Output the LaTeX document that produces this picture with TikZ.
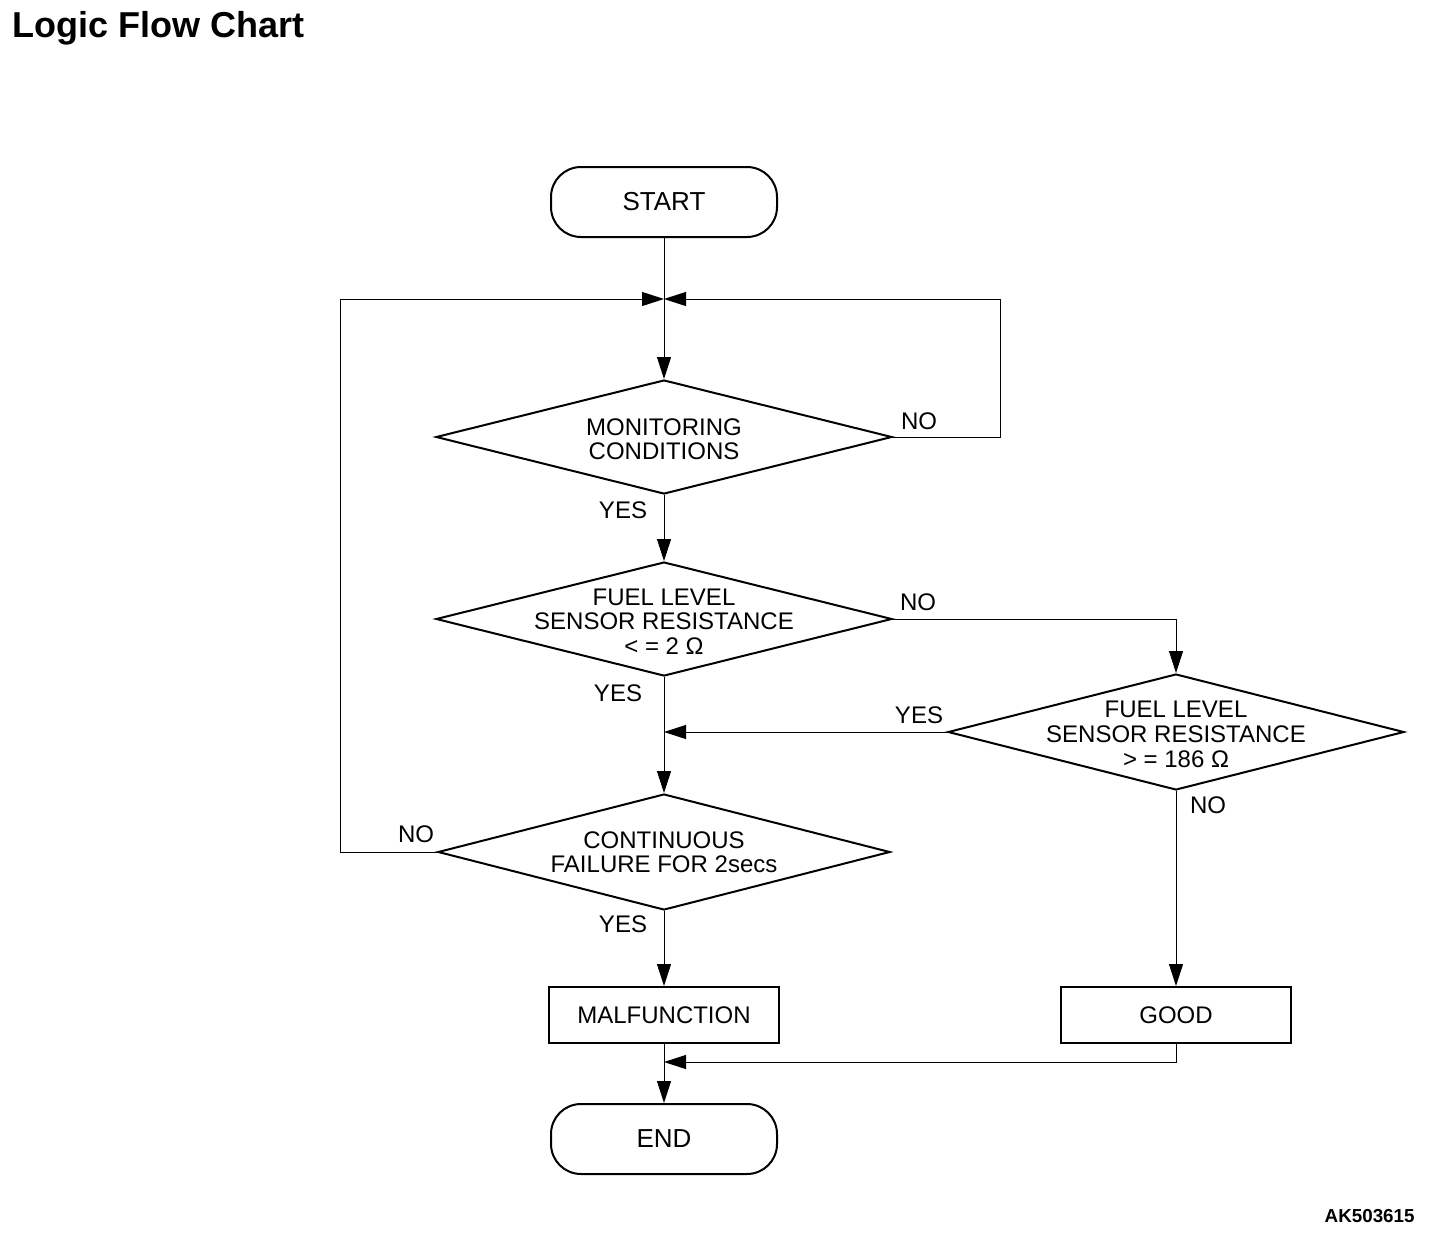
\documentclass[tikz,border=0pt]{standalone}
\usepackage{fontspec}
\setmainfont{Liberation Sans}
\usetikzlibrary{arrows.meta,shapes.geometric}
\tikzset{
  terminal/.style={draw,line width=1pt,rounded corners=15pt,minimum width=113pt,minimum height=35pt,inner sep=0pt,font=\fontsize{13}{15}\selectfont},
  process/.style={draw,line width=1pt,minimum width=115pt,minimum height=28pt,inner sep=0pt,font=\fontsize{12}{14}\selectfont},
  decision/.style={draw,diamond,line width=1pt,inner sep=0pt,minimum width=228pt,minimum height=57pt},
  txt/.style={align=center,inner sep=0pt,yshift=-1.2pt,font=\fontsize{12}{12.3}\selectfont},
  yesno/.style={inner sep=0pt,font=\fontsize{12}{14}\selectfont},
  conn/.style={line width=0.5pt},
  >={Triangle[length=11pt,width=7pt]}
}
\begin{document}
\begin{tikzpicture}[x=0.5pt,y=-0.5pt]
	\useasboundingbox (0,0) rectangle (1456,1242);
	\node[anchor=base west,inner sep=0pt,font=\fontsize{18}{21}\selectfont\bfseries] (title) at (12,37) {Logic Flow Chart};
	\node[anchor=base east,inner sep=0pt,font=\fontsize{9.4}{11}\selectfont\bfseries] (code) at (1415,1222) {AK503615};
	% boxes
	\node[terminal] (start) at (664,202) {START};
	\node[decision,label={[txt]center:{MONITORING\\CONDITIONS}}] (mon) at (664,437) {};
	\node[decision,label={[txt]center:{FUEL LEVEL\\SENSOR RESISTANCE\\< = 2 Ω}}] (fuel1) at (664,619) {};
	\node[decision,minimum height=58pt,label={[txt]center:{FUEL LEVEL\\SENSOR RESISTANCE\\> = 186 Ω}}] (fuel2) at (1176,732) {};
	\node[decision,minimum width=226pt,minimum height=58pt,label={[txt,yshift=1pt]center:{CONTINUOUS\\FAILURE FOR 2secs}}] (cont) at (664,852) {};
	\node[process] (malf) at (664,1015) {MALFUNCTION};
	\node[process] (good) at (1176,1015) {GOOD};
	\node[terminal] (stop) at (664,1139) {END};
	% junctions
	\coordinate (j1) at (664,299);
	\coordinate (j2) at (664,732);
	\coordinate (j3) at (664,1062);
	\coordinate (lx) at (340,299);
	\coordinate (rx) at (1000,299);
	% connectors
	\draw[conn] (start) -- (j1);
	\draw[conn,->] (j1) -- (mon);
	\draw[conn,->] (mon) -- (fuel1);
	\draw[conn,->] (fuel1) -- (cont);
	\draw[conn,->] (cont) -- (malf);
	\draw[conn,->] (malf) -- (stop);
	\draw[conn,->] (cont.west) -| (lx) -- (j1);
	\draw[conn,->] (mon.east) -| (rx) -- (j1);
	\draw[conn,->] (fuel1.east) -| (fuel2.north);
	\draw[conn,->] (fuel2.west) -- (j2);
	\draw[conn,->] (fuel2) -- (good);
	\draw[conn,->] (good.south) |- (j3);
	% yes / no
	\node[yesno] (monno) at (919,421) {NO};
	\node[yesno] (monyes) at (623,510) {YES};
	\node[yesno] (f1no) at (918,602) {NO};
	\node[yesno] (f1yes) at (618,693) {YES};
	\node[yesno] (f2yes) at (919,715) {YES};
	\node[yesno] (f2no) at (1208,805) {NO};
	\node[yesno] (contno) at (416,834) {NO};
	\node[yesno] (contyes) at (623,924) {YES};
\end{tikzpicture}
\end{document}
